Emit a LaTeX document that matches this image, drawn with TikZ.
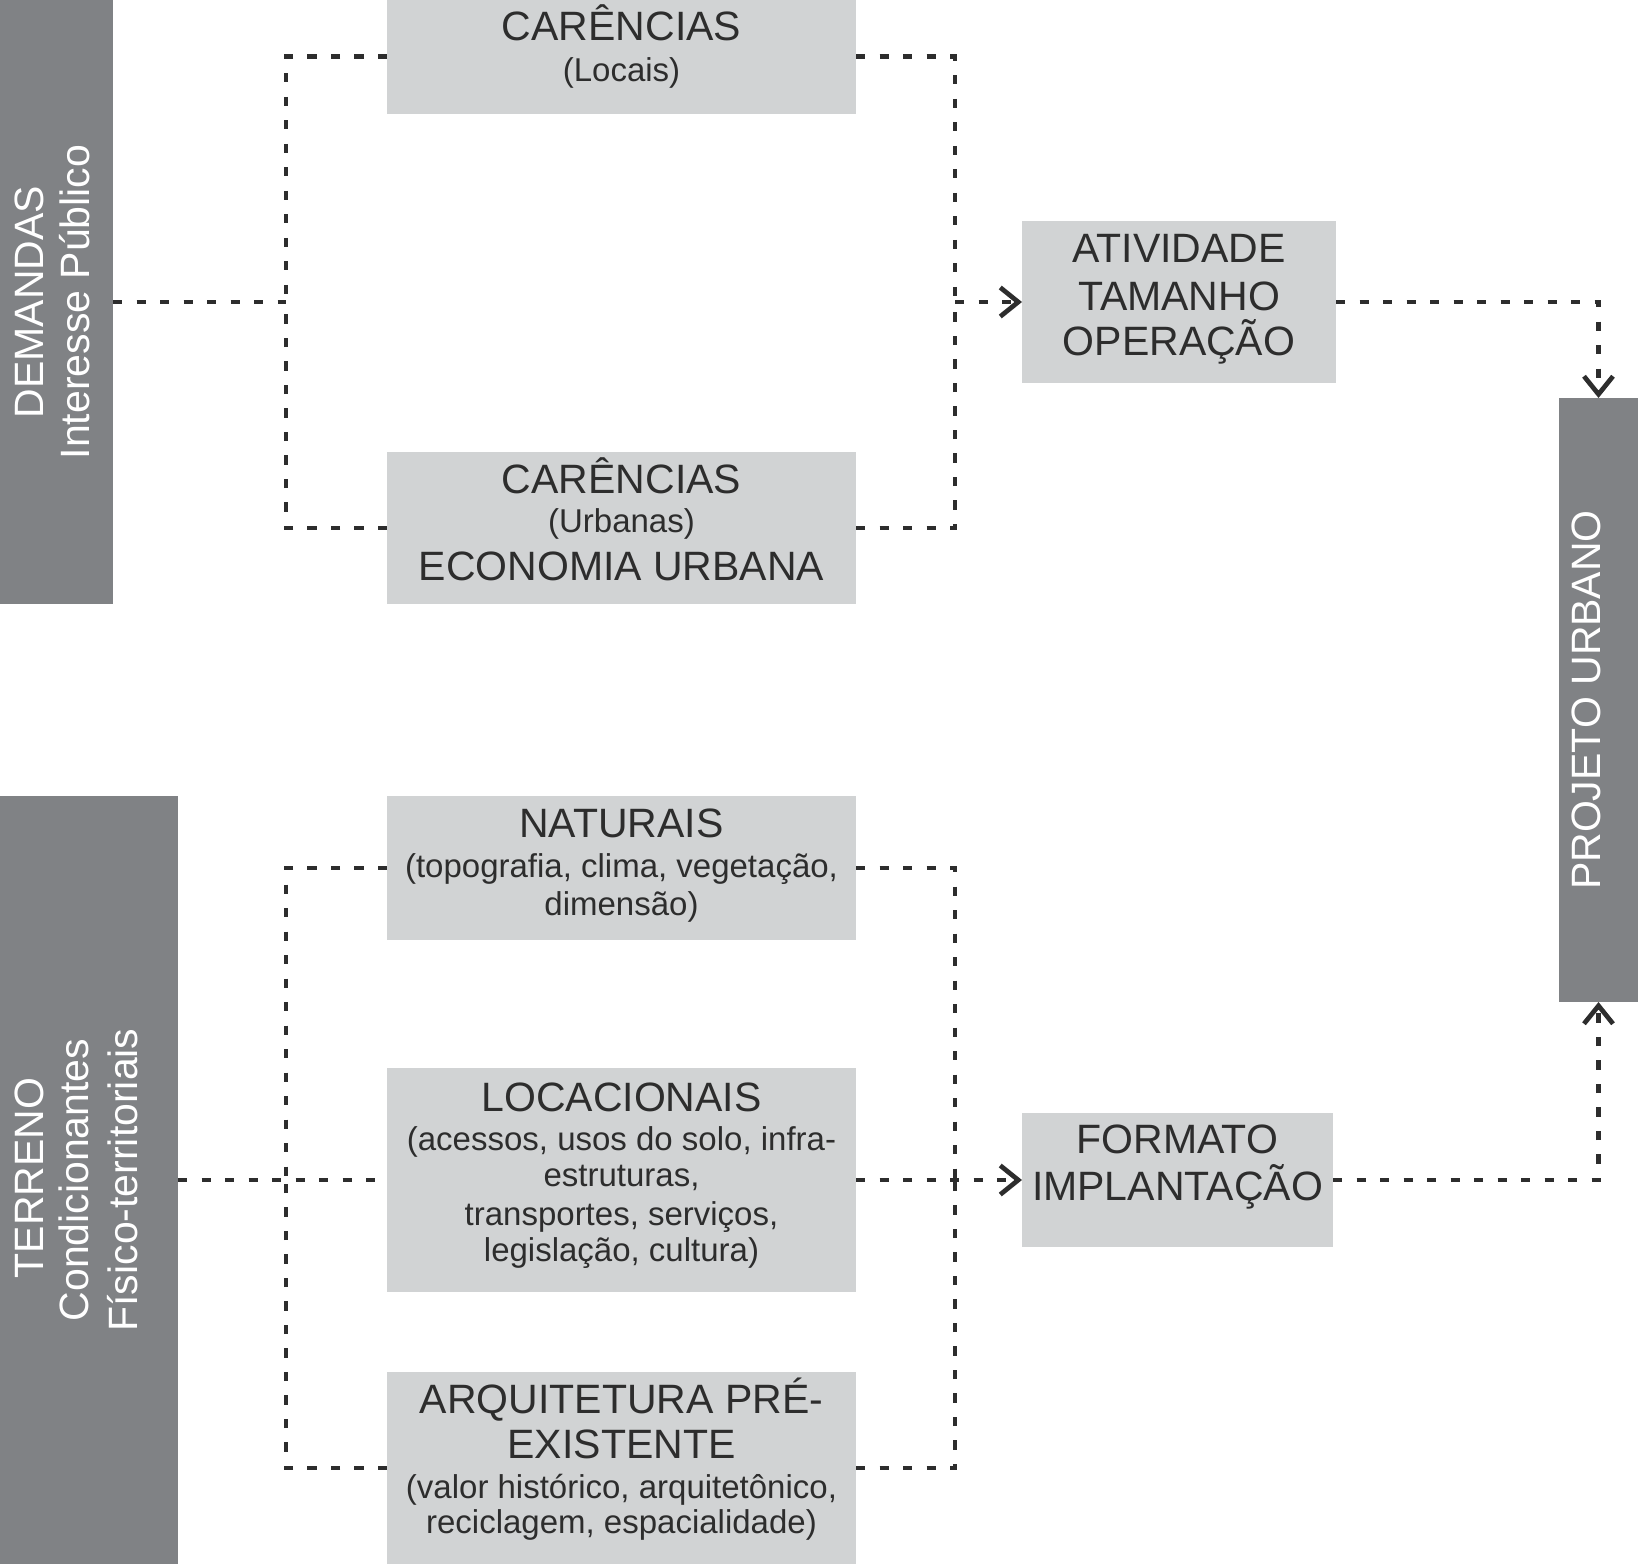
\documentclass[tikz,border=0pt]{standalone}
\usepackage{fontspec}
\setmainfont{Liberation Sans}
\usetikzlibrary{arrows.meta}
\definecolor{bargray}{RGB}{128,130,133}
\definecolor{boxgray}{RGB}{209,211,212}
\definecolor{ink}{RGB}{45,45,45}
\newcommand{\bigtxt}{\fontsize{41}{46}\selectfont}
\newcommand{\smalltxt}{\fontsize{33}{38}\selectfont}
\begin{document}
\begin{tikzpicture}[x=1pt,y=-1pt,
  lightbox/.style={fill=boxgray,draw=none,inner sep=0pt,outer sep=0pt},
  darkbar/.style={fill=bargray,draw=none,inner sep=0pt,outer sep=0pt},
  bigline/.style={font=\bigtxt,text=ink,inner sep=0pt,anchor=base},
  smallline/.style={font=\smalltxt,text=ink,inner sep=0pt,anchor=base},
  barline/.style={font=\bigtxt,text=white,inner sep=0pt,anchor=base,rotate=90},
  dl/.style={draw=ink,line width=4.7pt,dash pattern=on 9.2pt off 14.3pt},
  arr/.style={dl,-{Straight Barb[length=18pt,width=29pt]}}
]
\useasboundingbox (0,0) rectangle (1638,1564);
\fill[white] (0,0) rectangle (1638,1564);

% bars
\node[darkbar,minimum width=113pt,minimum height=604pt] (dem) at (56.5,302) {};
\node[darkbar,minimum width=178pt,minimum height=768pt] (ter) at (89,1180) {};
\node[darkbar,minimum width=79pt,minimum height=604pt] (proj) at (1598.5,700) {};

% boxes
\node[lightbox,minimum width=469pt,minimum height=113.5pt] (cl) at (621.5,56.75) {};
\node[lightbox,minimum width=469pt,minimum height=152pt] (cu) at (621.5,528) {};
\node[lightbox,minimum width=314pt,minimum height=162pt] (ativ) at (1179,302) {};
\node[lightbox,minimum width=469pt,minimum height=144pt] (nat) at (621.5,868) {};
\node[lightbox,minimum width=469pt,minimum height=224pt] (loc) at (621.5,1180) {};
\node[lightbox,minimum width=469pt,minimum height=192pt] (arq) at (621.5,1468) {};
\node[lightbox,minimum width=311pt,minimum height=134pt] (form) at (1177.5,1180) {};

% bar texts
\node[barline] (demA) at (43,302) {DEMANDAS};
\node[barline] (demB) at (89,302) {Interesse Público};
\node[barline] (terA) at (43,1178) {TERRENO};
\node[barline] (terB) at (88,1180) {Condicionantes};
\node[barline] (terC) at (137,1180) {Físico-territoriais};
\node[barline] (projA) at (1600,700) {PROJETO URBANO};

% box texts
\node[bigline] (clA) at (621.5,40.7) {CARÊNCIAS};
\node[smallline] (clB) at (621.5,81) {(Locais)};
\node[bigline] (cuA) at (621.5,493.5) {CARÊNCIAS};
\node[smallline] (cuB) at (621.5,532) {(Urbanas)};
\node[bigline] (cuC) at (621.5,580) {ECONOMIA URBANA};
\node[bigline] (atA) at (1179,262.7) {ATIVIDADE};
\node[bigline] (atB) at (1179,310) {TAMANHO};
\node[bigline] (atC) at (1179,355.7) {OPERAÇÃO};
\node[bigline] (naA) at (621.5,837.5) {NATURAIS};
\node[smallline] (naB) at (621.5,877.5) {(topografia, clima, vegetação,};
\node[smallline] (naC) at (621.5,915) {dimensão)};
\node[bigline] (loA) at (621.5,1111.7) {LOCACIONAIS};
\node[smallline] (loB) at (621.5,1150) {(acessos, usos do solo, infra-};
\node[smallline] (loC) at (621.5,1186.7) {estruturas,};
\node[smallline] (loD) at (621.5,1225) {transportes, serviços,};
\node[smallline] (loE) at (621.5,1261.7) {legislação, cultura)};
\node[bigline] (arA) at (621.5,1413) {ARQUITETURA PRÉ-};
\node[bigline] (arB) at (621.5,1458) {EXISTENTE};
\node[smallline] (arC) at (621.5,1498) {(valor histórico, arquitetônico,};
\node[smallline] (arD) at (621.5,1533) {reciclagem, espacialidade)};
\node[bigline] (foA) at (1177.5,1153) {FORMATO};
\node[bigline] (foB) at (1177.5,1200) {IMPLANTAÇÃO};

% junctions
\coordinate (jtl) at (286,302);
\coordinate (jtr) at (955,302);
\coordinate (jbl) at (286,1180);
\coordinate (jbr) at (955,1180);

% top connectors
\draw[dl] (dem.east) -- (jtl);
\draw[dl] (cl.west) -| (jtl);
\draw[dl] (cu.west) -| (jtl);
\draw[dl] (cl.east) -| (jtr);
\draw[dl] (cu.east) -| (jtr);
\draw[arr] (jtr) -- (ativ.west);
\draw[arr] (ativ.east) -| (proj.north);

% bottom connectors
\draw[dl] (ter.east) -- (loc.west);
\draw[dl] (nat.west) -| (jbl);
\draw[dl] (arq.west) -| (jbl);
\draw[dl] (nat.east) -| (jbr);
\draw[dl] (arq.east) -| (jbr);
\draw[arr] (loc.east) -- (form.west);
\draw[arr] (form.east) -| (proj.south);
\end{tikzpicture}
\end{document}
